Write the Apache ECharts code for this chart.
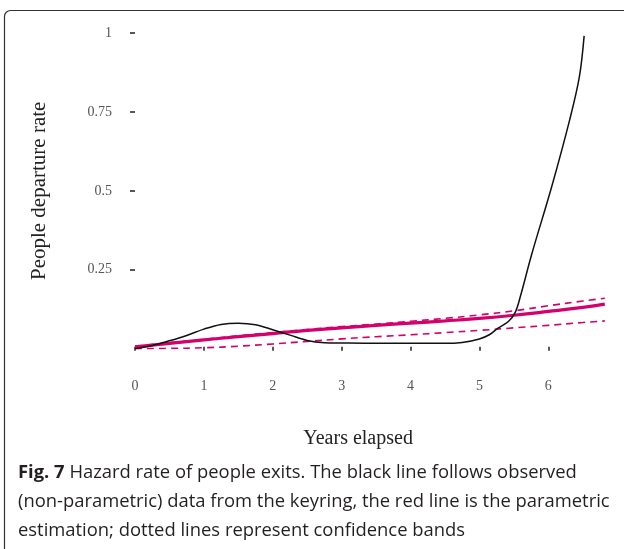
<!DOCTYPE html>
<html><head><meta charset="utf-8">
<script src="https://cdn.jsdelivr.net/npm/echarts@6/dist/echarts.min.js"></script>
<style>html,body{margin:0;padding:0;background:#fff}#c{width:624px;height:549px}</style>
</head><body><div id="c"></div>
<script>
// Observed (non-parametric) hazard
const obsYears = [0,0.25,0.5,0.75,1.0,1.25,1.5,1.75,2.0,2.25,2.5,2.75,3.0,3.5,4.0,4.5,4.75,5.0,5.15,5.27,5.42,5.52,5.6,5.76,6.05,6.31,6.45,6.52];
const obsRate  = [0,0.01,0.025,0.042,0.062,0.077,0.081,0.076,0.06,0.043,0.026,0.019,0.018,0.017,0.017,0.017,0.02,0.031,0.045,0.065,0.086,0.115,0.17,0.3,0.514,0.725,0.86,0.991];
// Parametric estimate and confidence bands
const fitYears = [0,0.5,1,1.5,2,2.5,3,3.5,4,4.5,5,5.5,6,6.5,6.82];
const fitRate  = [0.006,0.017,0.028,0.038,0.048,0.058,0.066,0.074,0.081,0.088,0.096,0.106,0.118,0.131,0.141];
const upperRate= [0.008,0.019,0.03,0.041,0.051,0.061,0.07,0.078,0.087,0.096,0.107,0.12,0.136,0.151,0.16];
const lowerRate= [0,0.001,0.003,0.008,0.015,0.023,0.031,0.038,0.044,0.051,0.058,0.066,0.074,0.083,0.088];
const xTicks = [0,1,2,3,4,5,6];
const yTicks = [0.25,0.5,0.75,1];
const captionLines = ['{b|Fig. 7} Hazard rate of people exits. The black line follows observed','(non-parametric) data from the keyring, the red line is the parametric','estimation; dotted lines represent confidence bands'];

const pair = (xs, ys) => xs.map((x, i) => [x, ys[i]]);
const RED = '#d4006c';
const serif = 'Liberation Serif';
const chart = echarts.init(document.getElementById('c'));
chart.setOption({
  animation: false,
  grid: {left: 135, top: 33, right: 6.8, bottom: 200.3},
  title: {
    text: captionLines.join('\n'), left: 13, top: 453,
    textStyle: {fontFamily: 'Open Sans', fontSize: 18.4, fontWeight: 'normal', color: '#231f20', lineHeight: 29,
      rich: {b: {fontFamily: 'Open Sans', fontSize: 18.4, fontWeight: 'bold', color: '#231f20', lineHeight: 29}}}
  },
  graphic: [{type: 'rect', shape: {x: 4.5, y: 10.5, width: 700, height: 700, r: 6}, style: {fill: 'none', stroke: '#333', lineWidth: 1.2}, silent: true}],
  xAxis: {
    type: 'value', min: 0, max: 7, offset: -2,
    name: 'Years elapsed', nameLocation: 'middle', nameGap: 82,
    nameTextStyle: {fontFamily: serif, fontSize: 20, color: '#222', padding: [0, 36, 0, 0]},
    axisLine: {show: false}, splitLine: {show: false},
    axisTick: {show: true, length: 4, customValues: xTicks, lineStyle: {color: '#222', width: 1.5}},
    axisLabel: {customValues: xTicks, margin: 33, fontFamily: serif, fontSize: 14, color: '#555'}
  },
  yAxis: {
    type: 'value', min: 0, max: 1,
    name: 'People departure rate', nameLocation: 'middle', nameGap: 85, nameRotate: 90,
    nameTextStyle: {fontFamily: serif, fontSize: 21, color: '#222'},
    axisLine: {show: false}, splitLine: {show: false},
    axisTick: {show: true, length: 5, customValues: yTicks, lineStyle: {color: '#222', width: 1.5}},
    axisLabel: {customValues: yTicks, margin: 23, fontFamily: serif, fontSize: 14, color: '#555'}
  },
  series: [
    {type: 'line', data: pair(fitYears, upperRate), smooth: true, symbol: 'none', lineStyle: {color: RED, width: 1.6, type: [7, 5]}},
    {type: 'line', data: pair(fitYears, lowerRate), smooth: true, symbol: 'none', lineStyle: {color: RED, width: 1.6, type: [7, 5]}},
    {type: 'line', data: pair(fitYears, fitRate), smooth: true, symbol: 'none', lineStyle: {color: RED, width: 3.2}},
    {type: 'line', data: pair(obsYears, obsRate), smooth: 0.35, symbol: 'none', lineStyle: {color: '#111', width: 1.5}}
  ]
});
</script></body></html>
